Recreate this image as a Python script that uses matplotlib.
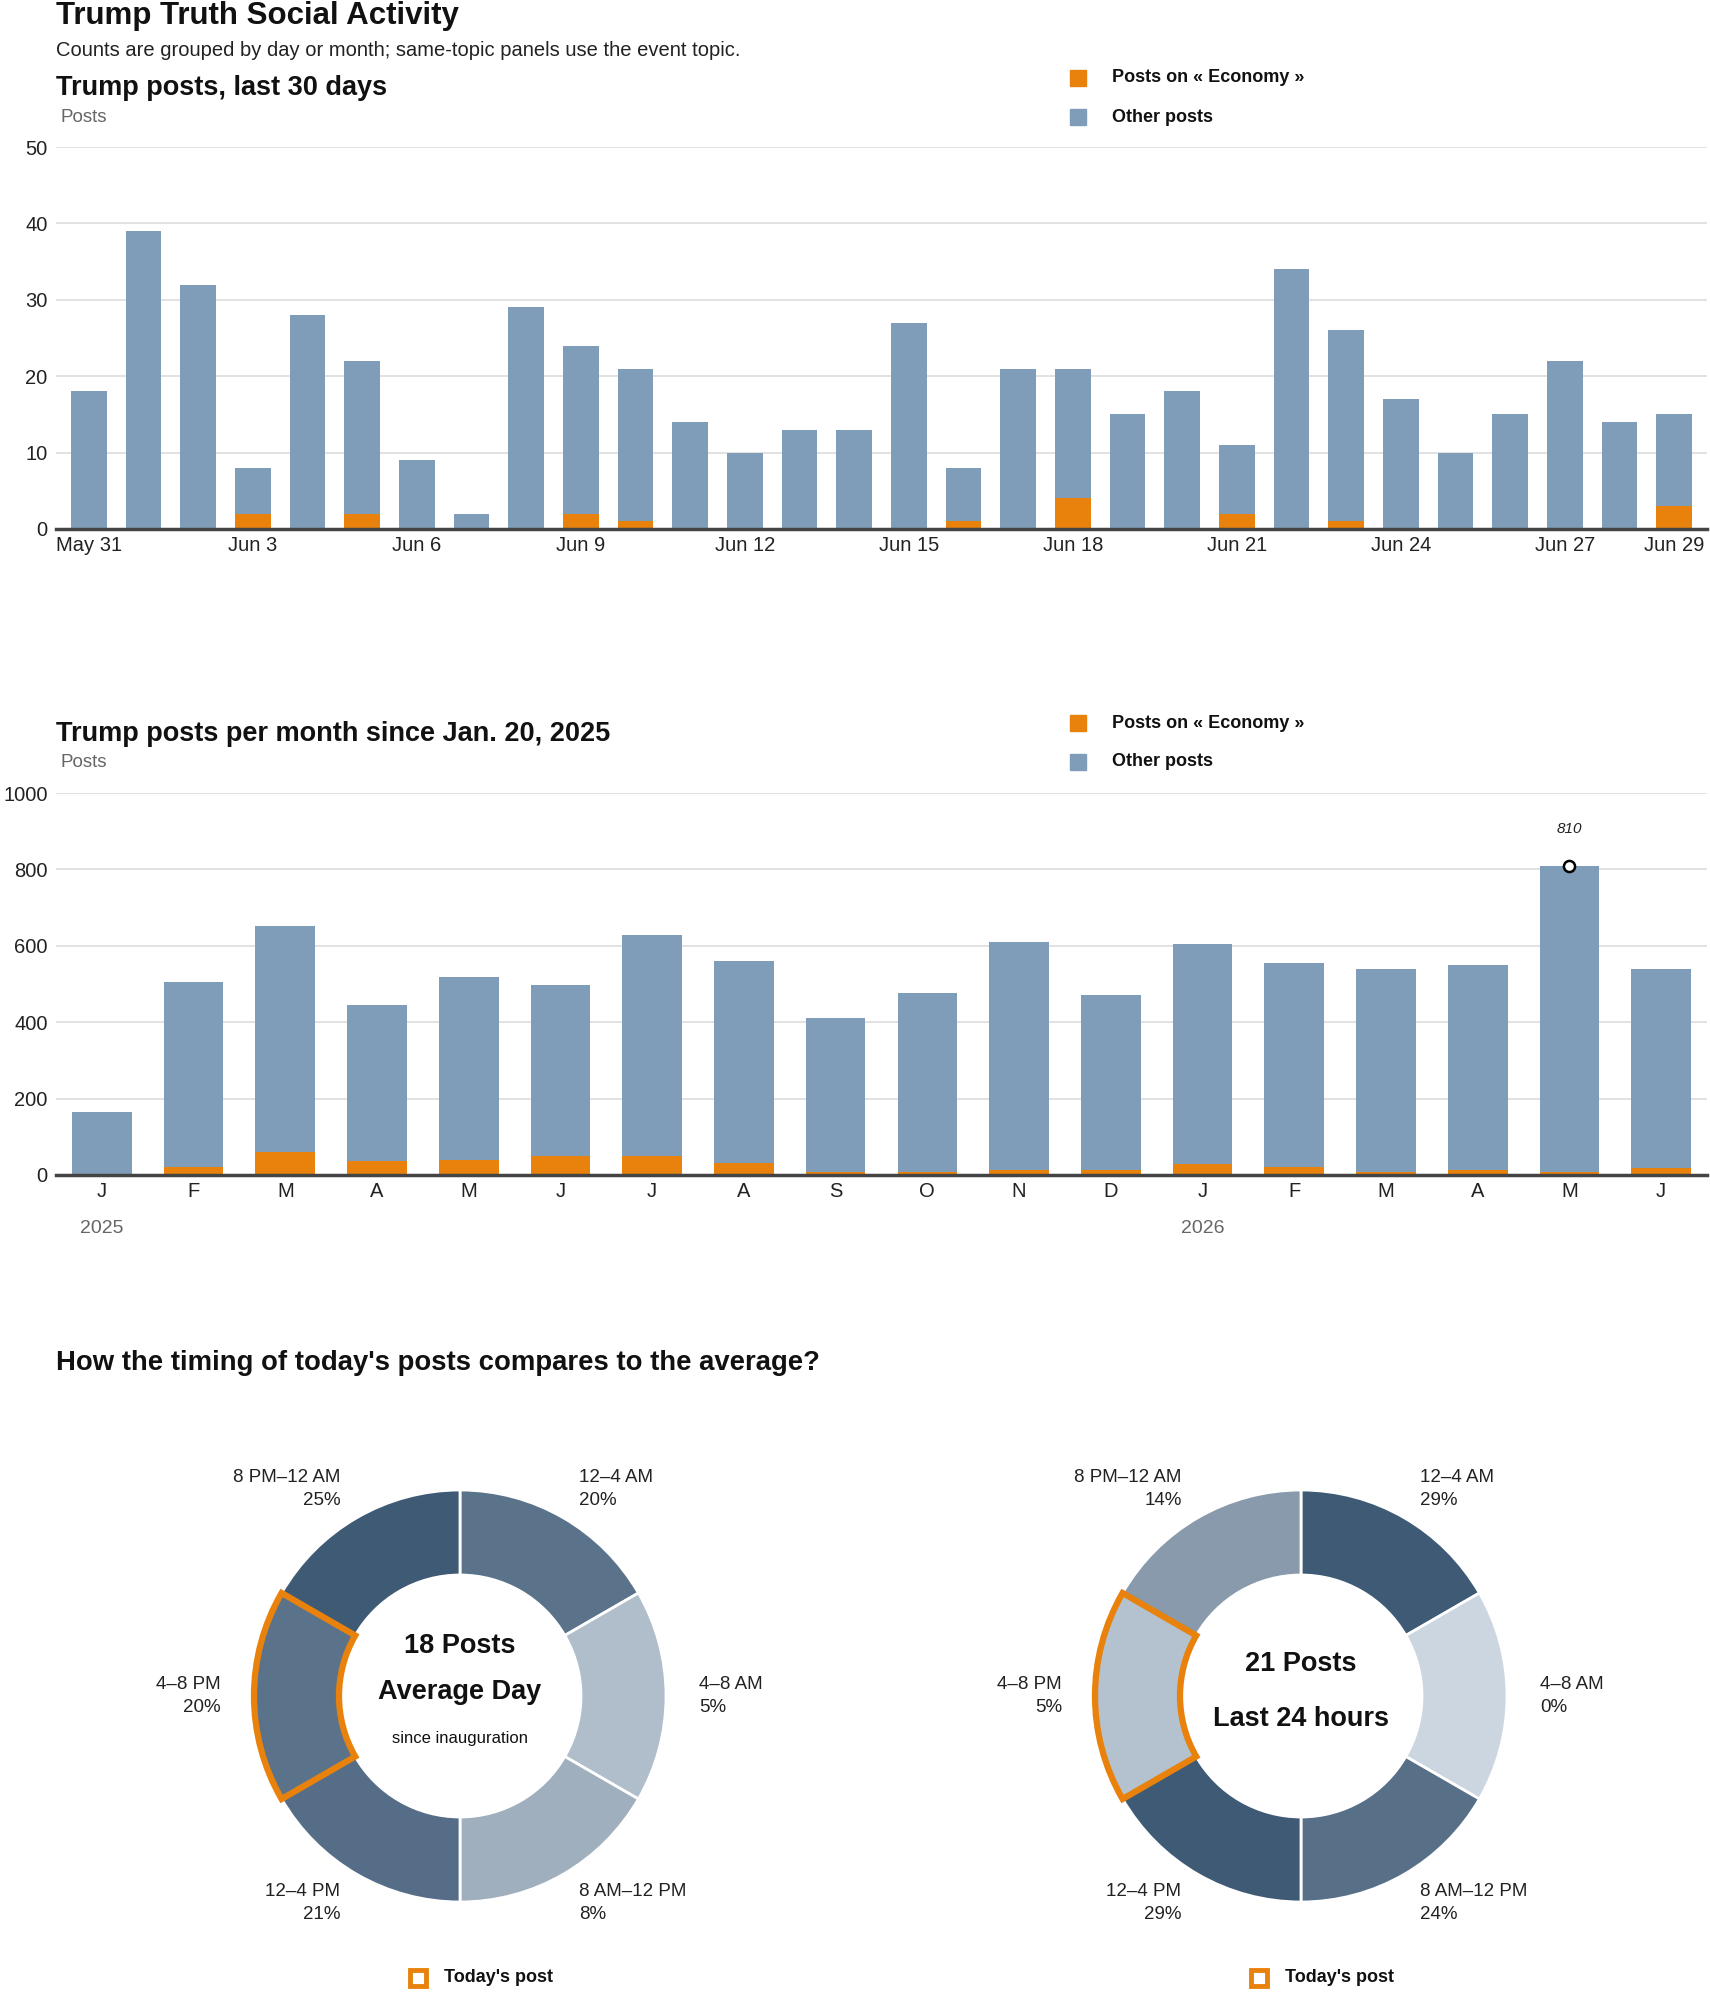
import matplotlib
matplotlib.use("Agg")
import matplotlib.pyplot as plt
import numpy as np
from matplotlib.colors import LinearSegmentedColormap
from matplotlib.patches import Wedge, Rectangle
from matplotlib.transforms import blended_transform_factory

plt.rcParams['font.family'] = ['Liberation Sans', 'DejaVu Sans']

ORANGE = '#E8820C'
BLUE = '#7F9DB9'

# --- datos: ultimos 30 dias ---
day_labels = ["May 31"] + [f"Jun {d}" for d in range(1, 30)]
day_total = [18, 39, 32, 8, 28, 22, 9, 2, 29, 24, 21, 14, 10, 13, 13,
             27, 8, 21, 21, 15, 18, 11, 34, 26, 17, 10, 15, 22, 14, 15]
day_economy = [0, 0, 0, 2, 0, 2, 0, 0, 0, 2, 1, 0, 0, 0, 0,
               0, 1, 0, 4, 0, 0, 2, 0, 1, 0, 0, 0, 0, 0, 3]
day_tick_idx = list(range(0, 30, 3)) + [29]

# --- datos: por mes desde Jan. 20, 2025 ---
month_labels = ["J", "F", "M", "A", "M", "J", "J", "A", "S", "O", "N", "D",
                "J", "F", "M", "A", "M", "J"]
month_total = [166, 504, 653, 446, 519, 498, 627, 559, 412, 477, 611, 472,
               606, 556, 539, 549, 810, 539]
month_economy = [0, 21, 60, 36, 39, 49, 49, 32, 9, 9, 14, 14,
                 28, 20, 9, 14, 9, 18]
year_labels = {0: "2025", 12: "2026"}

# --- datos: donas por franja horaria ---
slots = ["12–4 AM", "4–8 AM", "8 AM–12 PM", "12–4 PM", "4–8 PM", "8 PM–12 AM"]
avg_pct = [20, 5, 8, 21, 20, 25]
last24_pct = [29, 0, 24, 29, 5, 14]
today_slot = "4–8 PM"
avg_posts = 18
last24_posts = 21

W, H = 1710, 1993
fig = plt.figure(figsize=(W / 100, H / 100), dpi=100)


def px_axes(left, top, right, bottom):
    return fig.add_axes([left / W, 1 - bottom / H, (right - left) / W, (bottom - top) / H])


def ftext(x, y, s, **kw):
    fig.text(x / W, 1 - y / H, s, **kw)


def legend_block(y1, y2):
    for y, col, lab in [(y1, ORANGE, "Posts on « Economy »"), (y2, BLUE, "Other posts")]:
        fig.add_artist(Rectangle(((1078 - 8) / W, 1 - (y + 8) / H), 16 / W, 16 / H,
                                 transform=fig.transFigure, color=col))
        ftext(1112, y, lab, fontsize=13, fontweight='bold', va='center', color='#111')


def stacked(ax, total, econ, ymax, step):
    x = np.arange(len(total))
    econ = np.array(econ)
    other = np.array(total) - econ
    ax.bar(x, econ, width=0.65, color=ORANGE, zorder=3)
    ax.bar(x, other, bottom=econ, width=0.65, color=BLUE, zorder=3)
    ax.set_ylim(0, ymax)
    ax.set_yticks(np.arange(0, ymax + 1, step))
    ax.grid(axis='y', color='#dddddd', lw=1.2, zorder=0)
    for s in ['top', 'right', 'left']:
        ax.spines[s].set_visible(False)
    ax.spines['bottom'].set_color('#444444')
    ax.spines['bottom'].set_linewidth(2.5)
    ax.spines['bottom'].set_zorder(5)
    ax.tick_params(length=0, labelsize=14.5, colors='#222222')
    ax.tick_params(axis='y', pad=6)
    ax.tick_params(axis='x', pad=5)
    return x


# --- titulos ---
ftext(56, 16, "Trump Truth Social Activity", fontsize=22.5, fontweight='bold', va='center', color='#111')
ftext(56, 51, "Counts are grouped by day or month; same-topic panels use the event topic.",
      fontsize=14.5, va='center', color='#222')

# --- grafico 1 ---
ftext(56, 88, "Trump posts, last 30 days", fontsize=19.5, fontweight='bold', va='center', color='#111')
ftext(60, 117, "Posts", fontsize=13.5, va='center', color='#666666')
legend_block(78, 117)
ax1 = px_axes(56, 147, 1707, 529)
x1 = stacked(ax1, day_total, day_economy, 50, 10)
ax1.set_xlim(-0.6, len(day_total) - 0.4)
ax1.set_xticks(day_tick_idx)
ax1.set_xticklabels([day_labels[i] for i in day_tick_idx])

# --- grafico 2 ---
ftext(56, 734, "Trump posts per month since Jan. 20, 2025", fontsize=19.5, fontweight='bold',
      va='center', color='#111')
ftext(60, 763, "Posts", fontsize=13.5, va='center', color='#666666')
legend_block(723, 762)
ax2 = px_axes(56, 793, 1707, 1175)
x2 = stacked(ax2, month_total, month_economy, 1000, 200)
ax2.set_xlim(-0.5, len(month_total) - 0.5)
ax2.set_xticks(x2)
ax2.set_xticklabels(month_labels)
tr = blended_transform_factory(ax2.transData, ax2.transAxes)
for i, yr in year_labels.items():
    ax2.text(i, -0.14, yr, transform=tr, ha='center', va='center', fontsize=14, color='#666666')
imax = int(np.argmax(month_total))
ax2.plot(imax, month_total[imax], 'o', mfc='white', mec='black', ms=8, mew=1.8, zorder=6)
ax2.annotate(str(month_total[imax]), (imax, month_total[imax]), xytext=(0, 26),
             textcoords='offset points', ha='center', va='center', fontsize=11,
             style='italic', color='#222')

# --- donas ---
ftext(56, 1363, "How the timing of today's posts compares to the average?", fontsize=19.8,
      fontweight='bold', va='center', color='#111')

cmap = LinearSegmentedColormap.from_list("slots", ['#ccd6e0', '#3f5a75'])


def donut(cx, cy, pct, center_lines):
    ax = px_axes(cx - 260, cy - 260, cx + 260, cy + 260)
    pct = np.array(pct, dtype=float)
    colors = cmap(pct / pct.max())
    wedges, _ = ax.pie([1] * len(slots), radius=206, startangle=90, counterclock=False,
                       colors=colors, wedgeprops=dict(width=85, edgecolor='white', linewidth=2))
    ax.set_xlim(-260, 260)
    ax.set_ylim(-260, 260)
    ax.set_aspect('equal')
    ax.axis('off')
    for w, name, p in zip(wedges, slots, pct):
        mid = np.deg2rad((w.theta1 + w.theta2) / 2)
        lx, ly = 239 * np.cos(mid), 239 * np.sin(mid)
        ha = 'left' if lx > 1 else 'right'
        ax.text(lx, ly, f"{name}\n{int(p)}%", ha=ha, va='center', ma=ha, fontsize=13.5,
                linespacing=1.4, color='#222')
        if name == today_slot:
            ax.add_patch(Wedge((0, 0), 206, w.theta1, w.theta2, width=85, fill=False,
                               edgecolor=ORANGE, lw=4.5, joinstyle='miter', zorder=5))
    for dy, s, fs, fw in center_lines:
        ax.text(0, dy, s, ha='center', va='center', fontsize=fs, fontweight=fw, color='#111')
    # leyenda
    fig.add_artist(Rectangle(((cx - 42 - 8) / W, 1 - (1978 + 8) / H), 16 / W, 16 / H,
                             transform=fig.transFigure, fill=False, edgecolor=ORANGE, lw=3.5))
    ftext(cx - 16, 1978, "Today's post", fontsize=13, fontweight='bold', va='center', color='#111')


donut(460, 1696, avg_pct, [(50, f"{avg_posts} Posts", 19.5, 'bold'),
                           (4, "Average Day", 19.5, 'bold'),
                           (-43, "since inauguration", 12, 'normal')])
donut(1301, 1696, last24_pct, [(32, f"{last24_posts} Posts", 19.5, 'bold'),
                               (-23, "Last 24 hours", 19.5, 'bold')])

plt.savefig("out.png", dpi=100)
